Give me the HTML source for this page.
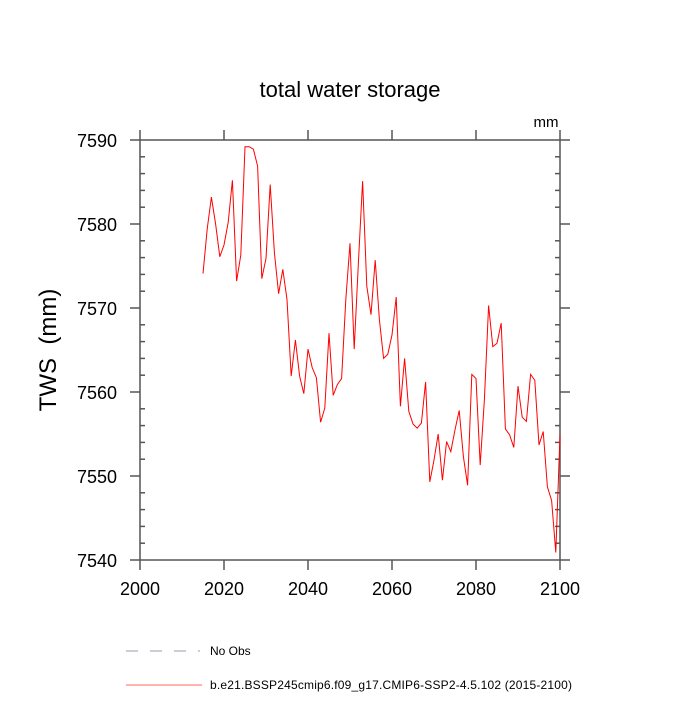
<!DOCTYPE html>
<html><head><meta charset="utf-8"><style>
body{margin:0;background:#fff;}
svg text{font-family:"Liberation Sans",sans-serif;}
</style></head><body>
<svg id="chart" width="700" height="700" xmlns="http://www.w3.org/2000/svg">
<text x="350" y="97" font-size="22" text-anchor="middle">total water storage</text>
<text x="546" y="127" font-size="15" text-anchor="middle">mm</text>
<text transform="translate(56,350) rotate(-90)" font-size="24" text-anchor="middle" xml:space="preserve">TWS  (mm)</text>
<g id="axes" stroke="#555" stroke-width="1.5" fill="none"></g>
<g id="labels" font-size="18"></g>
<polyline id="series" fill="none" stroke="#ff0000" stroke-width="1"/>
<line x1="126" y1="651" x2="200" y2="651" stroke="#9a9aaa" stroke-width="1" stroke-dasharray="12,12"/>
<text x="210" y="655" font-size="12">No Obs</text>
<line x1="126" y1="685" x2="202" y2="685" stroke="#ff6666" stroke-width="1"/>
<text x="210" y="689" font-size="12" textLength="362">b.e21.BSSP245cmip6.f09_g17.CMIP6-SSP2-4.5.102 (2015-2100)</text>
</svg>
<script>
const startYear = 2015;
const twsValues = [7574.1,7579.4,7583.2,7580,7576.1,7577.5,7580.2,7585.2,7573.2,7576.3,
7589.2,7589.2,7588.9,7586.9,7573.5,7575.9,7584.7,7576.6,7571.7,7574.6,
7571,7561.9,7566.2,7561.9,7559.8,7565.1,7562.9,7561.7,7556.4,7558.1,
7567,7559.6,7560.9,7561.6,7571,7577.7,7565.1,7575.4,7585.1,7572.6,
7569.2,7575.7,7568.6,7564,7564.5,7566.8,7571.3,7558.3,7564,7557.7,
7556.2,7555.7,7556.3,7561.2,7549.3,7551.9,7555,7549.5,7554.1,7552.9,
7555.5,7557.8,7552.3,7548.9,7562.1,7561.6,7551.3,7559.1,7570.3,7565.4,
7565.8,7568.2,7555.6,7554.9,7553.4,7560.7,7557,7556.5,7562.1,7561.4,
7553.7,7555.3,7548.7,7547.1,7540.9,7554.9];
const xTicks = [2000,2020,2040,2060,2080,2100];
const yTicks = [7540,7550,7560,7570,7580,7590];
const xMin=2000,xMax=2100,yMin=7540,yMax=7590;
const L=140,R=560,T=140,B=560;
const sx=v=>L+(v-xMin)/(xMax-xMin)*(R-L);
const sy=v=>B-(v-yMin)/(yMax-yMin)*(B-T);
const NS="http://www.w3.org/2000/svg";
const axes=document.getElementById('axes'), labels=document.getElementById('labels');
function ln(x1,y1,x2,y2,name){const e=document.createElementNS(NS,'line');e.setAttribute('x1',x1);e.setAttribute('y1',y1);e.setAttribute('x2',x2);e.setAttribute('y2',y2);


axes.appendChild(e);}
const fr=document.createElementNS(NS,'rect');fr.setAttribute('x',L);fr.setAttribute('y',T);fr.setAttribute('width',R-L);fr.setAttribute('height',B-T);


axes.appendChild(fr);
xTicks.forEach(v=>{const x=sx(v);ln(x,B,x,B+10,'x-tick');ln(x,T,x,T-10,'x-tick-top');
const t=document.createElementNS(NS,'text');t.setAttribute('x',x);t.setAttribute('y',B+35);t.setAttribute('text-anchor','middle');t.textContent=v;


labels.appendChild(t);});
yTicks.forEach(v=>{const y=sy(v);ln(L-10,y,L,y,'y-tick');ln(R,y,R+10,y,'y-tick-right');
const t=document.createElementNS(NS,'text');t.setAttribute('x',L-23);t.setAttribute('y',y+7);t.setAttribute('text-anchor','end');t.textContent=v;


labels.appendChild(t);});
for(let v=yMin+2;v<yMax;v+=2){if(v%10===0)continue;const y=sy(v);ln(L,y,L+5,y,'y-minor-tick');ln(R-5,y,R,y,'y-minor-tick-right');}
document.getElementById('series').setAttribute('points',twsValues.map((v,i)=>sx(startYear+i)+','+sy(v)).join(' '));
</script>
</body></html>
